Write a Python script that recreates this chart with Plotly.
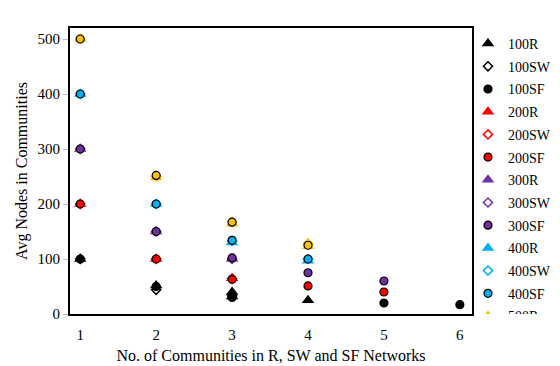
import plotly.graph_objects as go

# values
r100_x = [1, 2, 3, 3, 4]
r100_y = [100, 52, 40, 32, 25]
sw100_x = [1, 2, 3]
sw100_y = [100, 44, 33]
sf100_x = [1, 2, 3, 5, 6]
sf100_y = [100, 50, 30, 20, 17]

r200_x = [1, 2, 3]
r200_y = [200, 100, 65]
sw200_x = [1, 2, 3]
sw200_y = [200, 100, 64]
sf200_x = [1, 2, 3, 4, 5]
sf200_y = [200, 100, 63, 51, 40]

r300_x = [1, 2, 3]
r300_y = [300, 150, 100]
sw300_x = [1, 2, 3]
sw300_y = [300, 150, 100]
sf300_x = [1, 2, 3, 4, 5]
sf300_y = [300, 150, 102, 75, 60]

r400_x = [1, 2, 3, 4]
r400_y = [400, 200, 130, 97]
sw400_x = [1, 2, 3, 4]
sw400_y = [400, 200, 133, 100]
sf400_x = [1, 2, 3, 4]
sf400_y = [400, 200, 134, 100]

r500_x = [1, 2, 3, 4]
r500_y = [500, 248, 164, 123]
sw500_x = [1, 2, 3, 4]
sw500_y = [500, 250, 167, 128]
sf500_x = [1, 2, 3, 4]
sf500_y = [500, 252, 167, 125]

y_ticks = [0, 100, 200, 300, 400, 500]
x_ticks = [1, 2, 3, 4, 5, 6]

colors = {100: 'black', 200: '#FF0000', 300: '#7030A0', 400: '#00B0F0', 500: '#FFC000'}

series = [
    (100, r100_x, r100_y, sw100_x, sw100_y, sf100_x, sf100_y),
    (200, r200_x, r200_y, sw200_x, sw200_y, sf200_x, sf200_y),
    (300, r300_x, r300_y, sw300_x, sw300_y, sf300_x, sf300_y),
    (400, r400_x, r400_y, sw400_x, sw400_y, sf400_x, sf400_y),
    (500, r500_x, r500_y, sw500_x, sw500_y, sf500_x, sf500_y),
]

fig = go.Figure()
for n, rx, ry, swx, swy, sfx, sfy in series:
    c = colors[n]
    fig.add_trace(go.Scatter(x=rx, y=ry, mode='markers', name='%dR' % n,
                             legendgroup='%dR' % n,
                             marker=dict(symbol='triangle-up', size=11, color=c)))
    fig.add_trace(go.Scatter(x=swx, y=swy, mode='markers', name='%dSW' % n,
                             legendgroup='%dSW' % n,
                             marker=dict(symbol='diamond-open', size=7, color=c,
                                         line=dict(width=1.5, color=c))))
    fig.add_trace(go.Scatter(x=sfx, y=sfy, mode='markers', name='%dSF' % n,
                             legendgroup='%dSF' % n,
                             marker=dict(symbol='circle', size=8, color=c,
                                         line=dict(width=1.2, color='black'))))

font = 'Liberation Serif'
fig.update_layout(
    width=560, height=366,
    margin=dict(l=62, r=78, t=20, b=53),
    plot_bgcolor='white', paper_bgcolor='white',
    font=dict(family=font, size=15, color='black'),
    legend=dict(x=0.99, xanchor='left', y=1.0, yanchor='top',
                font=dict(size=14), tracegroupgap=1.5, maxheight=1.0,
                bgcolor='rgba(0,0,0,0)'),
    xaxis=dict(title=dict(text='No. of Communities in R, SW and SF Networks',
                          font=dict(size=16), standoff=8),
               range=[0.865, 6.16], tickvals=x_ticks, showgrid=False,
               zeroline=False, showline=True, linecolor='black', linewidth=2,
               mirror=True, ticks='', ticklabelstandoff=6),
    yaxis=dict(title=dict(text='Avg Nodes in Communities', font=dict(size=16),
                          standoff=6),
               range=[0, 520], tickvals=y_ticks, showgrid=False, zeroline=False,
               showline=True, linecolor='black', linewidth=2, mirror=True,
               ticks='outside', ticklen=5, tickcolor='#BFBFBF'),
)

fig.write_html("out.html")
